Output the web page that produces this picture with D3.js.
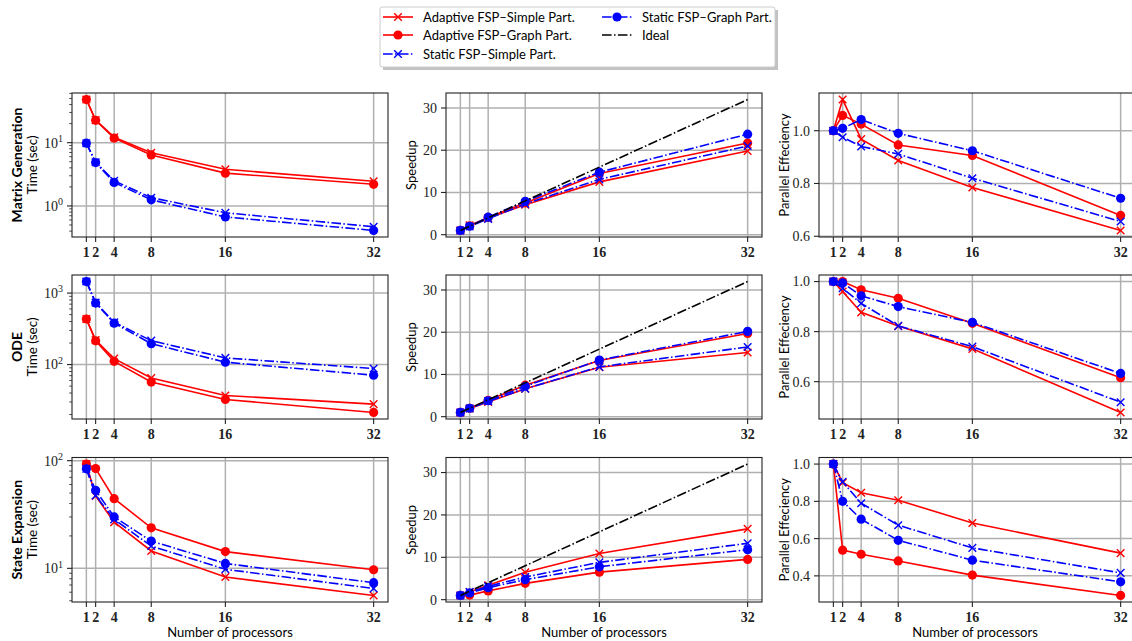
<!DOCTYPE html>
<html>
<head>
<meta charset="utf-8">
<script src="https://cdn.jsdelivr.net/npm/d3@7"></script>
<style>
  body { margin: 0; background: #fff; }
  .sans { font-family: Lato, "DejaVu Sans", sans-serif; fill: #000; }
  .serif { font-family: "Liberation Serif", "DejaVu Serif", serif; fill: #222; }
</style>
</head>
<body>
<div id="chart"></div>
<script>
// ---- data ----
const procs = [1, 2, 4, 8, 16, 32];
const ideal = [1, 2, 4, 8, 16, 32];

const seriesNames = ['Adaptive FSP\u2013Simple Part.', 'Adaptive FSP\u2013Graph Part.',
                     'Static FSP\u2013Simple Part.', 'Static FSP\u2013Graph Part.'];
const seriesColors = ['#ff0000', '#ff0000', '#0000ff', '#0000ff'];
const seriesMarkers = ['x', 'o', 'x', 'o'];
const seriesDashed = [false, false, true, true];

const rowLabels = ['Matrix Generation', 'ODE', 'State Expansion'];

// Matrix generation
const matGenTime = [
    [48, 22.7, 12.2, 6.9, 3.8, 2.45],
    [48, 22.5, 11.8, 6.4, 3.3, 2.2],
    [9.8, 4.9, 2.5, 1.35, 0.78, 0.47],
    [9.8, 4.85, 2.35, 1.25, 0.67, 0.41]
];
const matGenSpeedup = [
    [1, 2.2, 3.9, 7.1, 12.5, 19.8],
    [1, 2.1, 4.1, 7.5, 14.5, 21.7],
    [1, 1.95, 3.75, 7.3, 13.1, 21.0],
    [1, 2.0, 4.15, 7.9, 14.8, 23.8]
];
const matGenEff = [
    [1.0, 1.118, 0.968, 0.887, 0.785, 0.622],
    [1.0, 1.058, 1.025, 0.946, 0.906, 0.679],
    [1.0, 0.975, 0.94, 0.912, 0.82, 0.656],
    [1.0, 1.009, 1.042, 0.99, 0.924, 0.744]
];

// ODE
const odeTime = [
    [434, 220, 121, 65, 37, 28],
    [434, 215, 111, 57, 32.5, 21.4],
    [1450, 740, 390, 216, 124, 88],
    [1450, 725, 380, 196, 108, 71]
];
const odeSpeedup = [
    [1, 1.92, 3.5, 6.6, 11.7, 15.2],
    [1, 2.0, 3.87, 7.46, 13.3, 19.7],
    [1, 1.95, 3.65, 6.6, 11.8, 16.5],
    [1, 1.99, 3.77, 7.2, 13.4, 20.2]
];
const odeEff = [
    [1.0, 0.96, 0.877, 0.822, 0.731, 0.477],
    [1.0, 1.0, 0.967, 0.933, 0.833, 0.616],
    [1.0, 0.973, 0.913, 0.823, 0.74, 0.518],
    [1.0, 0.995, 0.943, 0.9, 0.837, 0.633]
];

// State expansion
const stateTime = [
    [93, 47, 26.8, 14.5, 8.3, 5.6],
    [93, 84.4, 44.4, 23.8, 14.3, 9.7],
    [84, 47.5, 28.5, 16.1, 9.8, 6.5],
    [84, 53, 30, 17.9, 11.1, 7.35]
];
const stateSpeedup = [
    [1, 1.8, 3.4, 6.45, 10.9, 16.7],
    [1, 1.08, 2.07, 3.85, 6.5, 9.5],
    [1, 1.8, 3.15, 5.35, 8.8, 13.3],
    [1, 1.6, 2.82, 4.72, 7.76, 11.8]
];
const stateEff = [
    [1.0, 0.9, 0.846, 0.806, 0.684, 0.522],
    [1.0, 0.538, 0.516, 0.48, 0.404, 0.295],
    [1.0, 0.905, 0.79, 0.672, 0.55, 0.416],
    [1.0, 0.8, 0.704, 0.591, 0.484, 0.368]
];

const speedupTicks = [0, 10, 20, 30];
const effTicks = [
    [0.6, 0.8, 1.0],
    [0.6, 0.8, 1.0],
    [0.4, 0.6, 0.8, 1.0]
];

// ---- layout ----
const W = 1132, H = 641;
const colBox = [[72, 388], [446, 762], [819, 1135]];
const rowBox = [[93, 237], [275, 419], [457.5, 602]];

const svg = d3.select('#chart').append('svg')
    .attr('width', W).attr('height', H);

const dashDot = '9.6,2.4,1.5,2.4';

function drawMarker(g, type, color, cx, cy) {
    if (type === 'o') {
        g.append('circle').attr('cx', cx).attr('cy', cy).attr('r', 4.6).attr('fill', color);
    } else {
        const s = 3.8;
        g.append('path')
            .attr('d', `M${cx - s},${cy - s}L${cx + s},${cy + s}M${cx - s},${cy + s}L${cx + s},${cy - s}`)
            .attr('stroke', color).attr('stroke-width', 1.4).attr('fill', 'none');
    }
}

function drawPanel(ri, ci, seriesData, opts) {
    const [x0, x1] = colBox[ci];
    const [y0, y1] = rowBox[ri];
    const g = svg.append('g');
    const clipId = `clip-${ri}-${ci}`;
    svg.append('clipPath').attr('id', clipId)
        .append('rect').attr('x', x0).attr('y', y0).attr('width', x1 - x0).attr('height', y1 - y0);

    // x scale with matplotlib-like 5% margins
    const xe = d3.extent(procs);
    const xp = (xe[1] - xe[0]) * 0.05;
    const x = d3.scaleLinear().domain([xe[0] - xp, xe[1] + xp]).range([x0, x1]);

    const allVals = seriesData.flat().concat(opts.ideal ? ideal : []);
    let y, yTicks;
    if (opts.log) {
        const lo = Math.log10(d3.min(allVals)), hi = Math.log10(d3.max(allVals));
        const p = (hi - lo) * 0.05;
        y = d3.scaleLog().domain([Math.pow(10, lo - p), Math.pow(10, hi + p)]).range([y1, y0]);
        yTicks = d3.range(Math.ceil(lo - p), Math.floor(hi + p) + 1);
    } else {
        const e = d3.extent(allVals);
        const p = (e[1] - e[0]) * 0.05;
        y = d3.scaleLinear().domain([e[0] - p, e[1] + p]).range([y1, y0]);
        yTicks = opts.ticks;
    }

    // grid
    const grid = g.append('g').attr('stroke', '#b0b0b0').attr('stroke-width', 1.5);
    procs.forEach(p => grid.append('line')
        .attr('x1', x(p)).attr('x2', x(p)).attr('y1', y0).attr('y2', y1));
    yTicks.forEach(t => {
        const yy = opts.log ? y(Math.pow(10, t)) : y(t);
        grid.append('line').attr('x1', x0).attr('x2', x1).attr('y1', yy).attr('y2', yy);
    });

    // series
    const plot = g.append('g').attr('clip-path', `url(#${clipId})`);
    const line = d3.line().x((d, i) => x(procs[i])).y(d => y(d));
    seriesData.forEach((vals, s) => {
        plot.append('path').datum(vals)
            .attr('d', line)
            .attr('fill', 'none')
            .attr('stroke', seriesColors[s])
            .attr('stroke-width', 1.6)
            .attr('stroke-dasharray', seriesDashed[s] ? dashDot : null);
        vals.forEach((v, i) => drawMarker(plot, seriesMarkers[s], seriesColors[s], x(procs[i]), y(v)));
    });
    if (opts.ideal) {
        plot.append('path').datum(ideal)
            .attr('d', line)
            .attr('fill', 'none')
            .attr('stroke', '#000')
            .attr('stroke-width', 1.6)
            .attr('stroke-dasharray', dashDot);
    }

    // x ticks
    procs.forEach(p => {
        g.append('line').attr('x1', x(p)).attr('x2', x(p)).attr('y1', y1).attr('y2', y1 + 5)
            .attr('stroke', '#222').attr('stroke-width', 1.1);
        g.append('text').attr('class', 'serif')
            .attr('x', x(p)).attr('y', y1 + 20)
            .attr('text-anchor', 'middle')
            .attr('font-size', 14).attr('font-weight', 'bold')
            .text(p);
    });

    // y ticks
    yTicks.forEach(t => {
        const yy = opts.log ? y(Math.pow(10, t)) : y(t);
        g.append('line').attr('x1', x0 - 5).attr('x2', x0).attr('y1', yy).attr('y2', yy)
            .attr('stroke', '#222').attr('stroke-width', 1.1);
        const txt = g.append('text').attr('class', 'serif')
            .attr('x', x0 - 9).attr('y', yy).attr('dy', '0.35em')
            .attr('text-anchor', 'end').attr('font-size', 14);
        if (opts.log) {
            txt.append('tspan').text('10');
            txt.append('tspan').attr('font-size', 10).attr('dy', '-0.55em').text(t);
        } else {
            txt.text(d3.format(opts.fmt)(t));
        }
    });
    if (opts.log) {
        const [dlo, dhi] = y.domain();
        for (let d = Math.floor(Math.log10(dlo)); d <= Math.ceil(Math.log10(dhi)); d++) {
            for (let k = 2; k <= 9; k++) {
                const v = k * Math.pow(10, d);
                if (v < dlo || v > dhi) continue;
                g.append('line').attr('x1', x0 - 2.8).attr('x2', x0).attr('y1', y(v)).attr('y2', y(v))
                    .attr('stroke', '#222').attr('stroke-width', 0.8);
            }
        }
    }

    // frame
    g.append('rect').attr('x', x0).attr('y', y0).attr('width', x1 - x0).attr('height', y1 - y0)
        .attr('fill', 'none').attr('stroke', '#222').attr('stroke-width', 1.1);

    // y labels
    const cy = (y0 + y1) / 2;
    if (ci === 0) {
        g.append('text').attr('class', 'sans')
            .attr('transform', `translate(22,${cy}) rotate(-90)`)
            .attr('text-anchor', 'middle').attr('font-size', 14).attr('font-weight', 'bold')
            .text(rowLabels[ri]);
        g.append('text').attr('class', 'sans')
            .attr('transform', `translate(37,${cy}) rotate(-90)`)
            .attr('text-anchor', 'middle').attr('font-size', 13.5)
            .text('Time (sec)');
    } else {
        g.append('text').attr('class', 'sans')
            .attr('transform', `translate(${x0 - 30},${cy}) rotate(-90)`)
            .attr('text-anchor', 'middle').attr('font-size', 13)
            .text(ci === 1 ? 'Speedup' : 'Parallel Effeciency');
    }
    if (ri === 2) {
        g.append('text').attr('class', 'sans')
            .attr('x', (x0 + Math.min(x1, W + 3)) / 2 - (ci === 2 ? 2 : 0)).attr('y', 637)
            .attr('text-anchor', 'middle').attr('font-size', 13)
            .text('Number of processors');
    }
}

const timeData = [matGenTime, odeTime, stateTime];
const speedupData = [matGenSpeedup, odeSpeedup, stateSpeedup];
const effData = [matGenEff, odeEff, stateEff];

for (let r = 0; r < 3; r++) {
    drawPanel(r, 0, timeData[r], { log: true });
    drawPanel(r, 1, speedupData[r], { ideal: true, ticks: speedupTicks, fmt: 'd' });
    drawPanel(r, 2, effData[r], { ticks: effTicks[r], fmt: '.1f' });
}

// ---- legend ----
const lg = svg.append('g');
const lx = 380, ly = 7, lw = 395, lh = 60;
lg.append('rect').attr('x', lx + 3).attr('y', ly + 3).attr('width', lw).attr('height', lh)
    .attr('fill', '#999').attr('opacity', 0.6);
lg.append('rect').attr('x', lx).attr('y', ly).attr('width', lw).attr('height', lh)
    .attr('fill', '#fff').attr('stroke', '#ccc').attr('stroke-width', 1).attr('rx', 2);

const legendItems = seriesNames.map((n, i) => ({
    name: n, color: seriesColors[i], marker: seriesMarkers[i], dashed: seriesDashed[i]
})).concat([{ name: 'Ideal', color: '#000', marker: null, dashed: true }]);
const legendPos = [[383, 17], [383, 35], [383, 54], [602, 17], [602, 35]];

legendItems.forEach((it, i) => {
    const [hx, hy] = legendPos[i];
    lg.append('line').attr('x1', hx).attr('x2', hx + 30).attr('y1', hy).attr('y2', hy)
        .attr('stroke', it.color).attr('stroke-width', 1.6)
        .attr('stroke-dasharray', it.dashed ? dashDot : null);
    if (it.marker) drawMarker(lg, it.marker, it.color, hx + 15, hy);
    lg.append('text').attr('class', 'sans')
        .attr('x', hx + 40).attr('y', hy).attr('dy', '0.35em')
        .attr('font-size', 13)
        .text(it.name);
});
</script>
</body>
</html>
